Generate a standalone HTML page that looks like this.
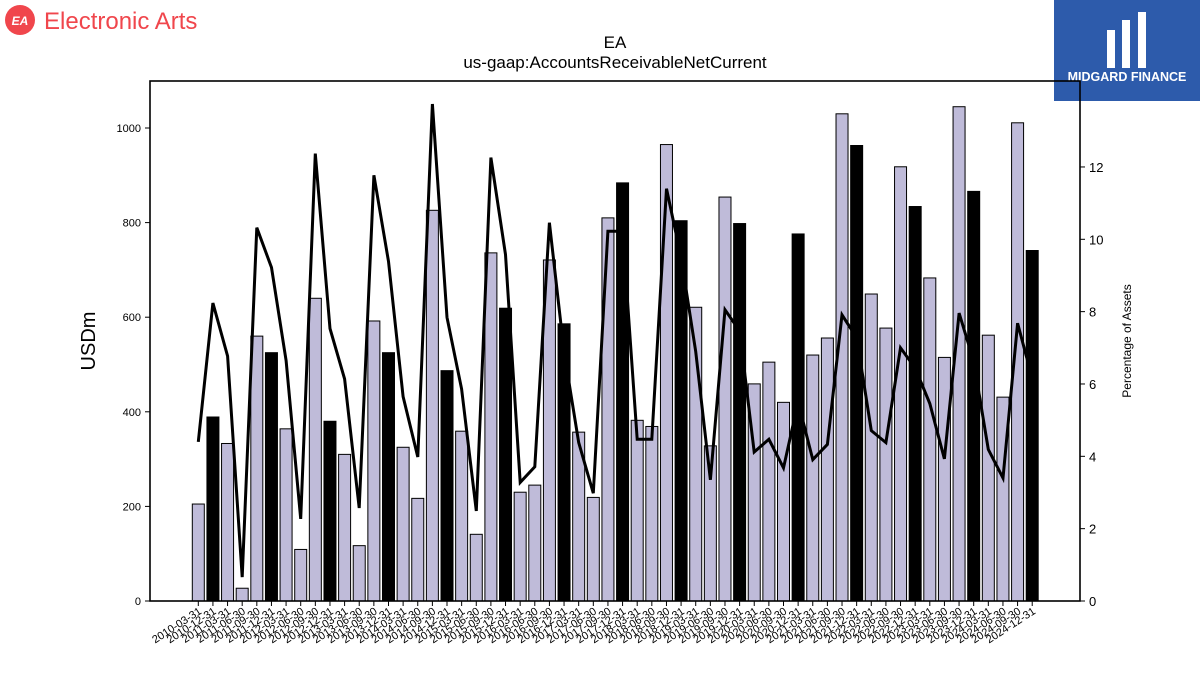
<!DOCTYPE html>
<html><head><meta charset="utf-8"><style>
html,body{margin:0;padding:0;background:#fff;width:1200px;height:675px;overflow:hidden;font-family:"Liberation Sans",sans-serif}
</style></head><body>
<svg id="chart" width="1200" height="675" xmlns="http://www.w3.org/2000/svg" font-family="Liberation Sans, sans-serif">
<g>
<circle cx="20" cy="20" r="15" fill="#f0464c"/>
<text x="20" y="25" text-anchor="middle" font-size="12" font-weight="bold" font-style="italic" fill="#fff">EA</text>
<text x="44" y="29" font-size="24" fill="#f0464c">Electronic Arts</text>
</g>
<g>
<rect x="1054" y="0" width="146" height="101" fill="#2d5bab"/>
<rect x="1107" y="30" width="8" height="38" fill="#fff"/>
<rect x="1122" y="20" width="8" height="48" fill="#fff"/>
<rect x="1138" y="12" width="8" height="56" fill="#fff"/>
<text x="1127" y="81" text-anchor="middle" font-size="12.5" font-weight="bold" fill="#fff">MIDGARD FINANCE</text>
</g>
<text x="615" y="48" text-anchor="middle" font-size="17">EA</text>
<text x="615" y="68" text-anchor="middle" font-size="17">us-gaap:AccountsReceivableNetCurrent</text>
<text transform="translate(95,341) rotate(-90)" text-anchor="middle" font-size="20">USDm</text>
<text transform="translate(1131,341) rotate(-90)" text-anchor="middle" font-size="12">Percentage of Assets</text>
<g id="plot"></g>
</svg>
<script>
const categories=["2010-03-31","2010-12-31","2011-03-31","2011-06-30","2011-09-30","2011-12-31","2012-03-31","2012-06-30","2012-09-30","2012-12-31","2013-03-31","2013-06-30","2013-09-30","2013-12-31","2014-03-31","2014-06-30","2014-09-30","2014-12-31","2015-03-31","2015-06-30","2015-09-30","2015-12-31","2016-03-31","2016-06-30","2016-09-30","2016-12-31","2017-03-31","2017-06-30","2017-09-30","2017-12-31","2018-03-31","2018-06-30","2018-09-30","2018-12-31","2019-03-31","2019-06-30","2019-09-30","2019-12-31","2020-03-31","2020-06-30","2020-09-30","2020-12-31","2021-03-31","2021-06-30","2021-09-30","2021-12-31","2022-03-31","2022-06-30","2022-09-30","2022-12-31","2023-03-31","2023-06-30","2023-09-30","2023-12-31","2024-03-31","2024-06-30","2024-09-30","2024-12-31"];
const receivables=[205,389,333,27,560,525,364,109,640,380,310,117,592,525,325,217,826,487,359,141,736,619,230,245,721,586,357,219,810,884,382,369,965,804,621,328,854,798,459,505,420,776,520,556,1030,963,649,577,918,834,683,515,1045,866,562,431,1011,741];
const pctAssets=[4.40,8.24,6.77,0.66,10.32,9.22,6.65,2.27,12.37,7.53,6.14,2.57,11.77,9.39,5.65,3.98,13.74,7.84,5.86,2.49,12.26,9.58,3.28,3.71,10.46,6.9,4.38,2.98,10.22,10.22,4.47,4.47,11.4,9.5,6.9,3.35,8.05,7.47,4.12,4.47,3.68,5.5,3.91,4.33,7.91,7.28,4.71,4.38,7.0,6.44,5.46,3.93,7.96,6.63,4.19,3.4,7.68,6.16];
const leftTicks=[0,200,400,600,800,1000];
const rightTicks=[0,2,4,6,8,10,12];

const NS="http://www.w3.org/2000/svg";
const plot=document.getElementById('plot');
const L=150,R=1080,T=81,B=601;
const x0=198.3,step=14.63,bw=12;
const xs=i=>x0+i*step;
const yl=v=>B-v*0.473;
const yr=v=>B-v*36.17;
function mk(tag,attrs){const e=document.createElementNS(NS,tag);for(const k in attrs)e.setAttribute(k,attrs[k]);plot.appendChild(e);return e;}

categories.forEach((c,i)=>{
  const v=receivables[i];
  const r=mk('rect',{x:xs(i)-bw/2,y:yl(v),width:bw,height:B-yl(v),fill:(i%4===1)?'#000':'#bfbbd9',stroke:'#000','stroke-width':1});
  
  
});
const pts=pctAssets.map((p,i)=>xs(i).toFixed(1)+','+yr(p).toFixed(1)).join(' ');
const line=mk('polyline',{points:pts,fill:'none',stroke:'#000','stroke-width':3,'stroke-linejoin':'miter'});



const frame=mk('rect',{x:L,y:T,width:R-L,height:B-T,fill:'none',stroke:'#000','stroke-width':1.6});



leftTicks.forEach(t=>{
  mk('line',{x1:L-5,x2:L,y1:yl(t),y2:yl(t),stroke:'#000'});
  const tx=mk('text',{x:L-9,y:yl(t)+4,'text-anchor':'end','font-size':11});
  tx.textContent=t;
  
  
});
rightTicks.forEach(t=>{
  mk('line',{x1:R,x2:R+5,y1:yr(t),y2:yr(t),stroke:'#000'});
  const tx=mk('text',{x:R+9,y:yr(t)+5,'font-size':13});
  tx.textContent=t;
  
  
});
categories.forEach((c,i)=>{
  mk('line',{x1:xs(i),x2:xs(i),y1:B,y2:B+5,stroke:'#000'});
  const tx=mk('text',{transform:`translate(${xs(i)+4},${B+12}) rotate(-33)`,'text-anchor':'end','font-size':11});
  tx.textContent=c;
  
  
});
</script>
</body></html>
